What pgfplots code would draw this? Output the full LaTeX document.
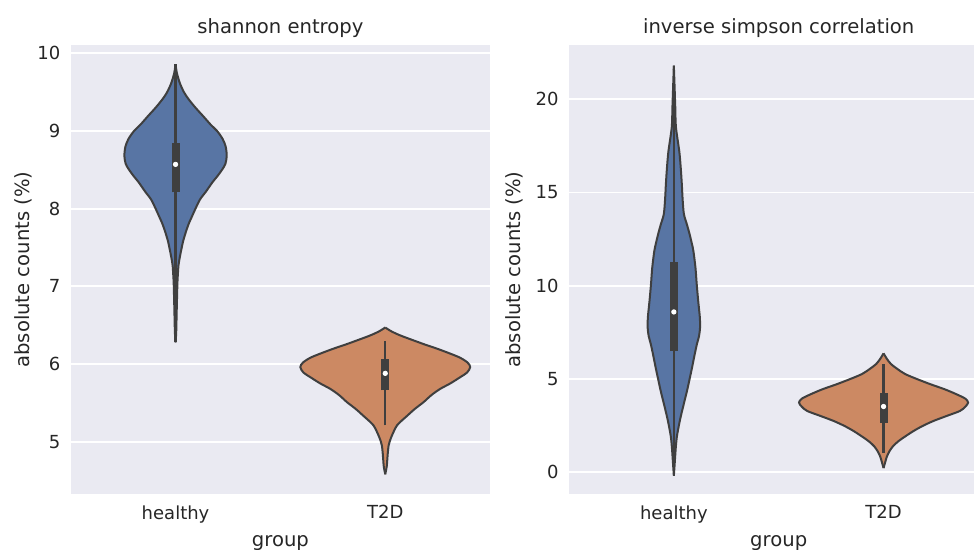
\documentclass[border=0pt]{standalone}
\usepackage{pgfplots}
\pgfplotsset{compat=1.18}
\usepgfplotslibrary{fillbetween}
\usepackage{pgfplotstable}
\usepackage{fontspec}
\setmainfont{DejaVu Sans}

\definecolor{bgc}{RGB}{234,234,242}
\definecolor{vblue}{RGB}{88,117,164}
\definecolor{vorange}{RGB}{204,137,99}
\definecolor{vgray}{RGB}{63,63,63}
\definecolor{txt}{RGB}{38,38,38}

% violin half-widths (category units) against value
\pgfplotstableread{
y w
9.86 0
9.75 0.006
9.62 0.020
9.50 0.040
9.41 0.062
9.30 0.095
9.19 0.132
9.08 0.168
9.00 0.198
8.90 0.224
8.80 0.239
8.68 0.244
8.58 0.238
8.51 0.224
8.42 0.200
8.34 0.176
8.22 0.145
8.12 0.117
8.00 0.095
7.91 0.080
7.80 0.062
7.69 0.048
7.58 0.036
7.48 0.028
7.37 0.020
7.27 0.014
7.15 0.011
7.05 0.009
6.85 0.007
6.62 0.005
6.40 0.003
6.28 0
}\shH
\pgfplotstableread{
y w
6.47 0
6.42 0.03
6.37 0.07
6.32 0.119
6.25 0.19
6.19 0.255
6.09 0.350
6.02 0.392
5.96 0.405
5.89 0.390
5.83 0.357
5.75 0.31
5.68 0.262
5.60 0.22
5.51 0.183
5.42 0.14
5.33 0.103
5.27 0.078
5.21 0.056
5.14 0.042
5.08 0.032
5.01 0.022
4.95 0.016
4.85 0.012
4.78 0.010
4.68 0.007
4.58 0
}\shT
\pgfplotstableread{
y w
21.8 0
20.5 0.004
19.5 0.007
18.5 0.010
17.2 0.026
16.3 0.033
15.45 0.038
14.6 0.042
13.84 0.048
13.3 0.062
12.77 0.075
12.3 0.085
11.88 0.093
10.98 0.103
10.09 0.109
9.20 0.116
8.30 0.124
7.77 0.125
7.30 0.120
6.88 0.110
6.25 0.098
5.63 0.087
5.00 0.075
4.38 0.063
3.65 0.047
2.95 0.032
2.40 0.022
1.88 0.014
1.30 0.009
0.80 0.006
0.30 0.003
-0.17 0
}\isH
\pgfplotstableread{
y w
6.38 0
6.10 0.015
5.81 0.035
5.55 0.065
5.27 0.103
5.00 0.160
4.73 0.222
4.46 0.290
4.19 0.347
3.95 0.390
3.74 0.403
3.52 0.390
3.29 0.364
3.02 0.300
2.75 0.237
2.48 0.185
2.21 0.142
1.94 0.105
1.67 0.071
1.40 0.045
1.13 0.028
0.85 0.016
0.55 0.008
0.23 0
}\isT

\pgfplotsset{
  seab/.style={
    scale only axis, width=209.7pt, height=224.5pt,
    axis background/.style={fill=bgc},
    axis line style={draw=none},
    major tick length=0pt,
    ymajorgrids, grid style={white, line width=0.9pt},
    xmin=-0.5, xmax=1.5,
    xtick={0,1}, xticklabels={healthy,T2D},
    tick label style={font=\fontsize{9}{10}\selectfont, text=txt},
    yticklabel style={anchor=east, inner sep=0pt, xshift=-5pt},
    xticklabel style={anchor=north, inner sep=0pt, yshift=-5.5pt},
    label style={font=\fontsize{9.8}{11}\selectfont, text=txt},
    title style={font=\fontsize{9.8}{11}\selectfont, text=txt, anchor=south, inner sep=0pt, yshift=-2.4pt},
    /pgf/number format/assume math mode=true,
    xlabel={group}, ylabel={absolute counts (\%)},
    xlabel style={at={(axis description cs:0.5,-0.109)}, anchor=center, inner sep=0pt},
  },
  outl/.style={vgray, line width=1pt, smooth},
  whisk/.style={vgray, line width=1.1pt},
  iqr/.style={vgray, line width=4pt},
  med/.style={only marks, mark=*, mark size=1.1pt, mark options={fill=white, draw=white}},
}

\begin{document}
\begin{tikzpicture}
\begin{axis}[seab, at={(35.35pt,28pt)}, anchor=south west,
  ymin=4.327, ymax=10.107, ytick={5,6,7,8,9,10},
  title={shannon entropy},
  ylabel style={at={(axis description cs:-0.1137,0.5)}, anchor=center, inner sep=0pt}]
  % healthy
  \addplot[draw=none, smooth, name path=a1] table[x expr=0-\thisrow{w}, y=y] {\shH};
  \addplot[draw=none, smooth, name path=b1] table[x expr=0+\thisrow{w}, y=y] {\shH};
  \addplot[fill=vblue, draw=none] fill between[of=a1 and b1];
  \addplot[outl] table[x expr=0-\thisrow{w}, y=y] {\shH};
  \addplot[outl] table[x expr=0+\thisrow{w}, y=y] {\shH};
  \addplot[whisk] coordinates {(0,6.28) (0,9.86)};
  \addplot[iqr] coordinates {(0,8.21) (0,8.85)};
  \addplot[med] coordinates {(0,8.57)};
  % T2D
  \addplot[draw=none, smooth, name path=a2] table[x expr=1-\thisrow{w}, y=y] {\shT};
  \addplot[draw=none, smooth, name path=b2] table[x expr=1+\thisrow{w}, y=y] {\shT};
  \addplot[fill=vorange, draw=none] fill between[of=a2 and b2];
  \addplot[outl] table[x expr=1-\thisrow{w}, y=y] {\shT};
  \addplot[outl] table[x expr=1+\thisrow{w}, y=y] {\shT};
  \addplot[whisk] coordinates {(1,5.21) (1,6.30)};
  \addplot[iqr] coordinates {(1,5.66) (1,6.06)};
  \addplot[med] coordinates {(1,5.88)};
\end{axis}
\begin{axis}[seab, at={(284.5pt,28pt)}, anchor=south west,
  ymin=-1.16, ymax=22.91, ytick={0,5,10,15,20},
  title={inverse simpson correlation},
  ylabel style={at={(axis description cs:-0.1311,0.5)}, anchor=center, inner sep=0pt}]
  % healthy
  \addplot[draw=none, smooth, name path=a3] table[x expr=0-\thisrow{w}, y=y] {\isH};
  \addplot[draw=none, smooth, name path=b3] table[x expr=0+\thisrow{w}, y=y] {\isH};
  \addplot[fill=vblue, draw=none] fill between[of=a3 and b3];
  \addplot[outl] table[x expr=0-\thisrow{w}, y=y] {\isH};
  \addplot[outl] table[x expr=0+\thisrow{w}, y=y] {\isH};
  \addplot[whisk] coordinates {(0,-0.17) (0,21.8)};
  \addplot[iqr] coordinates {(0,6.5) (0,11.25)};
  \addplot[med] coordinates {(0,8.6)};
  % T2D
  \addplot[draw=none, smooth, name path=a4] table[x expr=1-\thisrow{w}, y=y] {\isT};
  \addplot[draw=none, smooth, name path=b4] table[x expr=1+\thisrow{w}, y=y] {\isT};
  \addplot[fill=vorange, draw=none] fill between[of=a4 and b4];
  \addplot[outl] table[x expr=1-\thisrow{w}, y=y] {\isT};
  \addplot[outl] table[x expr=1+\thisrow{w}, y=y] {\isT};
  \addplot[whisk] coordinates {(1,1.05) (1,5.8)};
  \addplot[iqr] coordinates {(1,2.66) (1,4.28)};
  \addplot[med] coordinates {(1,3.53)};
\end{axis}
\pgfresetboundingbox
\path[use as bounding box] (0,0) rectangle (487pt,275pt);
\end{tikzpicture}
\end{document}
